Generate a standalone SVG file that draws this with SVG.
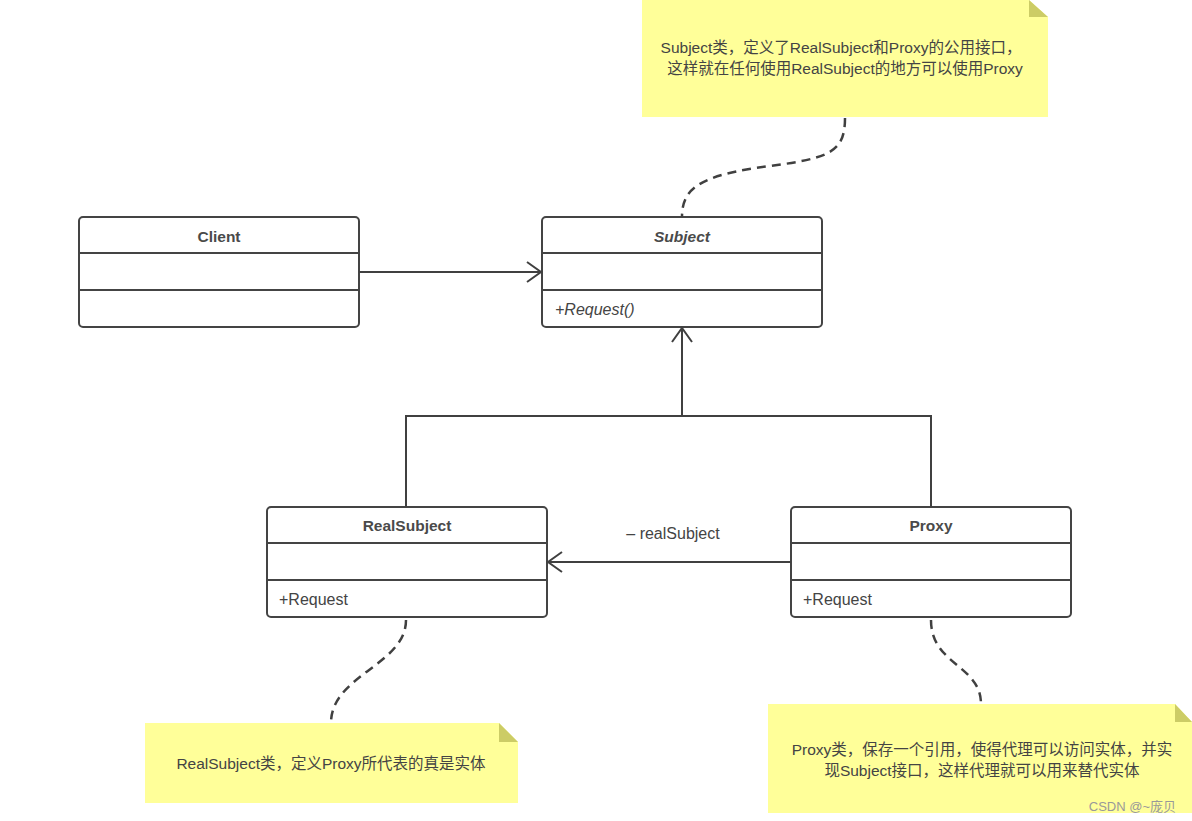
<svg xmlns="http://www.w3.org/2000/svg" width="1192" height="821" viewBox="0 0 1192 821">
<defs>
<style>
.box{fill:#fff;stroke:#444;stroke-width:2}
.div{stroke:#444;stroke-width:2}
.title{font-family:"Liberation Sans","Noto Sans CJK SC",sans-serif;font-size:15.5px;font-weight:bold;fill:#4a4a4a;text-anchor:middle}
.member{font-family:"Liberation Sans","Noto Sans CJK SC",sans-serif;font-size:16px;fill:#444}
.note{fill:#ffff99}
.fold{fill:#cccc66}
.ntext{font-family:"Liberation Sans","Noto Sans CJK SC",sans-serif;font-size:15.5px;fill:#444;text-anchor:middle}
.conn{fill:none;stroke:#404040;stroke-width:2}
.dash{fill:none;stroke:#404040;stroke-width:2.5;stroke-dasharray:9 6}
</style>
<marker id="open" markerUnits="userSpaceOnUse" markerWidth="20" markerHeight="24" refX="16" refY="11" orient="auto">
<path d="M2,1 L16,11 L2,21" fill="none" stroke="#404040" stroke-width="2"/>
</marker>
</defs>
<rect width="1192" height="821" fill="#fff"/>

<g id="note-subject">
<path class="note" d="M642,0 H1029 L1048,17 V117 H642 Z"/>
<path class="fold" d="M1029,0 L1048,17 H1029 Z"/>
<text class="ntext" x="841" y="53">Subject类，定义了RealSubject和Proxy的公用接口，</text>
<text class="ntext" x="845" y="74">这样就在任何使用RealSubject的地方可以使用Proxy</text>
</g>

<g id="note-realsubject">
<path class="note" d="M145,723 H499 L518,742 V803 H145 Z"/>
<path class="fold" d="M499,723 L518,742 H499 Z"/>
<text class="ntext" x="331" y="769">RealSubject类，定义Proxy所代表的真是实体</text>
</g>

<g id="note-proxy">
<path class="note" d="M768,704 H1175 L1192,722 V813 H768 Z"/>
<path class="fold" d="M1175,704 L1192,722 H1175 Z"/>
<text class="ntext" x="982" y="755">Proxy类，保存一个引用，使得代理可以访问实体，并实</text>
<text class="ntext" x="982" y="776">现Subject接口，这样代理就可以用来替代实体</text>
<text x="1176" y="811" font-family="Liberation Sans,Noto Sans CJK SC,sans-serif" font-size="13" fill="#999" text-anchor="end">CSDN @~庞贝</text>
</g>

<g id="client">
<rect class="box" x="79" y="217" width="280" height="110" rx="4"/>
<line class="div" x1="79" y1="253" x2="359" y2="253"/>
<line class="div" x1="79" y1="290" x2="359" y2="290"/>
<text class="title" x="219" y="242">Client</text>
</g>

<g id="subject">
<rect class="box" x="542" y="217" width="280" height="110" rx="4"/>
<line class="div" x1="542" y1="253" x2="822" y2="253"/>
<line class="div" x1="542" y1="290" x2="822" y2="290"/>
<text class="title" x="682" y="242" font-style="italic">Subject</text>
<text class="member" x="555" y="315" font-style="italic">+Request()</text>
</g>

<g id="realsubject">
<rect class="box" x="267" y="507" width="280" height="110" rx="4"/>
<line class="div" x1="267" y1="543" x2="547" y2="543"/>
<line class="div" x1="267" y1="580" x2="547" y2="580"/>
<text class="title" x="407" y="531">RealSubject</text>
<text class="member" x="279" y="605">+Request</text>
</g>

<g id="proxy">
<rect class="box" x="791" y="507" width="280" height="110" rx="4"/>
<line class="div" x1="791" y1="543" x2="1071" y2="543"/>
<line class="div" x1="791" y1="580" x2="1071" y2="580"/>
<text class="title" x="931" y="531">Proxy</text>
<text class="member" x="803" y="605">+Request</text>
</g>

<g id="connectors">
<path class="conn" d="M359,272 H541" marker-end="url(#open)"/>
<path class="conn" d="M682,416 V328" marker-end="url(#open)"/>
<path class="conn" d="M406,507 V416 H931 V507"/>
<path class="conn" d="M791,562 H548" marker-end="url(#open)"/>
<text class="member" x="673" y="539" text-anchor="middle">– realSubject</text>
<path class="dash" d="M845,118 C845,152 830,158 770,166 C700,175 682,188 682,217"/>
<path class="dash" d="M406,620 C406,665 331,675 331,723"/>
<path class="dash" d="M931,620 C931,665 981,665 981,704"/>
</g>
</svg>
